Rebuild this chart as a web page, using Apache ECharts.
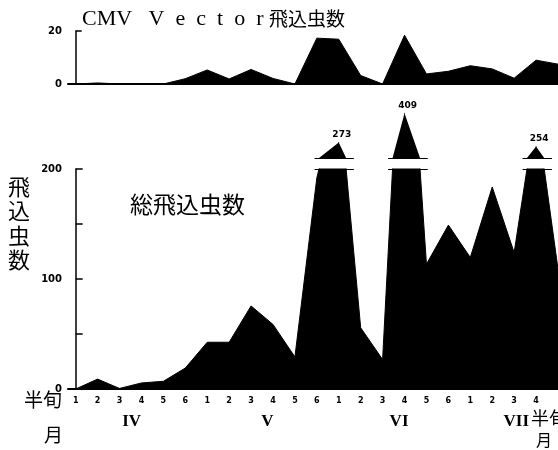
<!DOCTYPE html>
<html><head><meta charset="utf-8">
<script src="https://cdn.jsdelivr.net/npm/echarts@6/dist/echarts.min.js"></script>
<style>html,body{margin:0;padding:0;background:#fff}#c{width:558px;height:450px}</style>
</head><body><div id="c"></div>
<script>
// half-month periods (半旬) within months IV..VII
const periodLabels = ['1','2','3','4','5','6','1','2','3','4','5','6','1','2','3','4','5','6','1','2','3','4',''];
const monthLabels = ['IV','V','VI','VII'];
const monthPos = [2.55, 8.75, 14.75, 20.1];
// CMV vector catches
const vectorCounts = [0,0.4,0,0,0,2, 5.3,1.9,5.5,2.1,0,17.3, 16.9,3.2,0,18.4,3.8,4.8, 6.9,5.7,2.2,9.0,7.5];
// total catches
const totalCounts = [0,9,0.5,5.5,7,19, 42.5,42.5,75.5,58.7,29.2,192, 273,55.7,26.8,409,113.5,149, 119.6,183.6,124,254,109];
const totalTicks = [0,100,200];
const vectorTicks = [0,20];
const breakAt = 200;

const chart = echarts.init(document.getElementById('c'), null, {renderer:'canvas'});
const pts = arr => arr.map((v,i)=>[i,v]);
const periodIdx = periodLabels.slice(0,22).map((_,i)=>i);

// break segments computed from data
const breakSegs = [];
for (let i=0;i<totalCounts.length;i++){
  if (totalCounts[i] > breakAt && (i===0 || totalCounts[i-1] <= breakAt)){
    let j=i; while (j+1<totalCounts.length && totalCounts[j+1]>breakAt) j++;
    const l = (i-1) + (breakAt-totalCounts[i-1])/(totalCounts[i]-totalCounts[i-1]);
    const r = j<totalCounts.length-1 ? j + (totalCounts[j]-breakAt)/(totalCounts[j]-totalCounts[j+1]) : j;
    breakSegs.push([{coord:[l-0.2,breakAt]},{coord:[r+0.35,breakAt]}]);
    i=j;
  }
}

const xBase = {type:'value', min:-0.35, max:22, splitLine:{show:false}, axisTick:{show:false}};
const numFont = '"DejaVu Sans", sans-serif';
const ml = {symbol:'none', silent:true, label:{show:false}, lineStyle:{color:'#000', width:1, type:'solid'}, data: breakSegs, animation:false};

chart.setOption({
  animation:false,
  backgroundColor:'#fff',
  grid:[
    {left:68, right:0, top:31, height:53},
    {left:68, right:0, top:169, height:220},
    {left:68, right:0, top:111, height:47}
  ],
  xAxis:[
    Object.assign({}, xBase, {gridIndex:0, axisLine:{show:true, lineStyle:{color:'#000', width:2}}, axisLabel:{show:false}}),
    Object.assign({}, xBase, {gridIndex:1, axisLine:{show:true, lineStyle:{color:'#000', width:2}},
      axisLabel:{show:true, customValues: periodIdx, formatter: v => periodLabels[Math.round(v)], color:'#000', fontSize:8, fontWeight:'bold', fontFamily:numFont, margin:8}}),
    Object.assign({}, xBase, {gridIndex:2, show:false}),
    Object.assign({}, xBase, {gridIndex:1, position:'bottom', offset:22, axisLine:{show:false},
      axisLabel:{show:true, customValues: monthPos, formatter: v => monthLabels[monthPos.indexOf(v)], color:'#000', fontSize:17, fontWeight:'bold', fontFamily:'"Liberation Serif", serif', margin:2}})
  ],
  yAxis:[
    {gridIndex:0, type:'value', min:0, max:20, interval:20, splitLine:{show:false},
      axisLine:{show:true, lineStyle:{color:'#000', width:1.5}}, axisTick:{show:true, inside:true, length:6, lineStyle:{color:'#000', width:1.5}},
      axisLabel:{formatter: v => vectorTicks.includes(v) ? String(v) : '', color:'#000', fontSize:10, fontWeight:'bold', fontFamily:numFont, margin:6}},
    {gridIndex:1, type:'value', min:0, max:200, interval:50, splitLine:{show:false},
      axisLine:{show:true, lineStyle:{color:'#000', width:1.5}}, axisTick:{show:true, inside:true, length:7, lineStyle:{color:'#000', width:1.5}},
      axisLabel:{formatter: v => totalTicks.includes(v) ? String(v) : '', color:'#000', fontSize:10, fontWeight:'bold', fontFamily:numFont, margin:6}},
    {gridIndex:2, type:'value', min:200, max:420, show:false}
  ],
  series:[
    {type:'line', xAxisIndex:0, yAxisIndex:0, data: pts(vectorCounts), symbol:'none', clip:true,
      lineStyle:{color:'#000', width:1}, areaStyle:{color:'#000', opacity:1}},
    {type:'line', xAxisIndex:1, yAxisIndex:1, data: pts(totalCounts), symbol:'none', clip:true,
      lineStyle:{color:'#000', width:1}, areaStyle:{color:'#000', opacity:1}, markLine: ml},
    {type:'line', xAxisIndex:2, yAxisIndex:2, symbol:'circle', symbolSize:1, showSymbol:true, clip:true,
      itemStyle:{color:'#000'},
      data: totalCounts.map((v,i)=>({value:[i,v], label:{show: v>breakAt}})),
      label:{position:'top', distance:3, offset:[3,0], formatter: p => String(p.value[1]), color:'#000', fontSize:9, fontWeight:'bold', fontFamily:numFont},
      lineStyle:{color:'#000', width:0}, areaStyle:{color:'#000', opacity:1}, markLine: ml}
  ],
  graphic:[
    {type:'text', left:82, top:8, style:{text:'{a|CMV   V  e  c  t  o  r }{b|飛込虫数}', rich:{
      a:{font:'22px "Liberation Serif", serif', fill:'#000'}, b:{font:'19px "Noto Sans CJK JP"', fill:'#000'}}}},
    {type:'text', left:130, top:193, style:{text:'総飛込虫数', font:'23px "Noto Sans CJK JP"', fill:'#000'}},
    {type:'text', left:8, top:174, style:{text:'飛\n込\n虫\n数', font:'22px "Noto Sans CJK JP"', lineHeight:24.5, fill:'#000'}},
    {type:'text', left:24, top:390, style:{text:'半旬', font:'19px "Noto Sans CJK JP"', fill:'#000'}},
    {type:'text', left:44, top:425, style:{text:'月', font:'19px "Noto Sans CJK JP"', fill:'#000'}},
    {type:'text', left:531, top:409, style:{text:'半旬', font:'18px "Noto Sans CJK JP"', fill:'#000'}},
    {type:'text', left:536, top:432, style:{text:'月', font:'16px "Noto Sans CJK JP"', fill:'#000'}}
  ]
});
</script></body></html>
